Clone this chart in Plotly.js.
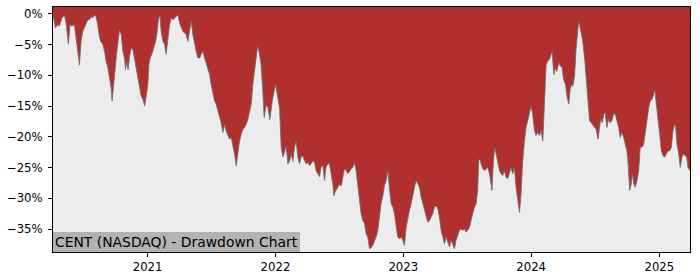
<!DOCTYPE html>
<html>
<head>
<meta charset="utf-8">
<script src="https://cdn.plot.ly/plotly-3.0.1.min.js"></script>
<style>html,body{margin:0;padding:0;background:#fff;}#chart{width:700px;height:280px;}</style>
</head>
<body>
<div id="chart"></div>
<script>
// Decimal-year positions of the readings (converted to dates below)
const years = [
2020.262,2020.281,2020.299,2020.312,2020.332,2020.351,2020.364,2020.382,2020.395,2020.410,
2020.429,2020.437,2020.455,2020.468,2020.481,2020.494,2020.507,2020.520,2020.533,2020.547,
2020.559,2020.572,2020.586,2020.598,2020.611,2020.625,2020.637,2020.651,2020.664,2020.676,
2020.690,2020.703,2020.715,2020.723,2020.734,2020.750,2020.760,2020.770,2020.781,2020.794,
2020.807,2020.820,2020.828,2020.838,2020.848,2020.859,2020.872,2020.885,2020.898,2020.911,
2020.924,2020.937,2020.950,2020.963,2020.977,2020.989,2021.002,2021.010,2021.020,2021.036,
2021.049,2021.063,2021.075,2021.084,2021.096,2021.106,2021.120,2021.133,2021.145,2021.159,
2021.172,2021.185,2021.198,2021.211,2021.224,2021.237,2021.250,2021.263,2021.276,2021.289,
2021.302,2021.315,2021.328,2021.341,2021.354,2021.367,2021.380,2021.393,2021.407,2021.419,
2021.432,2021.446,2021.458,2021.471,2021.485,2021.497,2021.511,2021.524,2021.536,2021.550,
2021.563,2021.575,2021.589,2021.602,2021.615,2021.628,2021.641,2021.654,2021.667,2021.680,
2021.693,2021.706,2021.719,2021.732,2021.745,2021.758,2021.771,2021.784,2021.797,2021.812,
2021.823,2021.837,2021.849,2021.860,2021.870,2021.886,2021.899,2021.912,2021.925,2021.941,
2021.956,2021.977,2022.001,2022.021,2022.032,2022.045,2022.058,2022.071,2022.084,2022.097,
2022.110,2022.123,2022.136,2022.149,2022.162,2022.175,2022.188,2022.201,2022.214,2022.228,
2022.240,2022.253,2022.267,2022.279,2022.292,2022.306,2022.318,2022.332,2022.345,2022.357,
2022.371,2022.384,2022.396,2022.410,2022.423,2022.435,2022.449,2022.457,2022.470,2022.488,
2022.501,2022.514,2022.527,2022.540,2022.553,2022.566,2022.579,2022.592,2022.605,2022.618,
2022.631,2022.644,2022.658,2022.670,2022.683,2022.697,2022.709,2022.722,2022.736,2022.751,
2022.764,2022.787,2022.801,2022.814,2022.826,2022.840,2022.853,2022.866,2022.879,2022.892,
2022.905,2022.918,2022.931,2022.944,2022.957,2022.970,2022.983,2022.996,2023.009,2023.022,
2023.035,2023.048,2023.061,2023.074,2023.088,2023.100,2023.113,2023.127,2023.139,2023.152,
2023.166,2023.178,2023.192,2023.205,2023.217,2023.231,2023.244,2023.256,2023.270,2023.283,
2023.296,2023.309,2023.322,2023.335,2023.348,2023.361,2023.374,2023.387,2023.400,2023.413,
2023.426,2023.439,2023.452,2023.465,2023.479,2023.491,2023.504,2023.518,2023.530,2023.543,
2023.557,2023.569,2023.582,2023.590,2023.600,2023.608,2023.622,2023.635,2023.647,2023.661,
2023.674,2023.686,2023.694,2023.705,2023.715,2023.726,2023.739,2023.752,2023.765,2023.778,
2023.791,2023.804,2023.817,2023.830,2023.843,2023.856,2023.869,2023.882,2023.895,2023.909,
2023.921,2023.934,2023.948,2023.960,2023.973,2023.987,2023.999,2024.012,2024.026,2024.038,
2024.052,2024.065,2024.077,2024.091,2024.104,2024.117,2024.130,2024.143,2024.156,2024.163,
2024.177,2024.190,2024.200,2024.216,2024.229,2024.242,2024.253,2024.268,2024.281,2024.294,
2024.304,2024.315,2024.325,2024.339,2024.351,2024.364,2024.370,2024.378,2024.390,2024.403,
2024.417,2024.429,2024.443,2024.456,2024.468,2024.482,2024.495,2024.507,2024.521,2024.529,
2024.542,2024.554,2024.568,2024.578,2024.591,2024.604,2024.617,2024.630,2024.643,2024.656,
2024.669,2024.683,2024.695,2024.708,2024.722,2024.734,2024.747,2024.755,2024.769,2024.781,
2024.789,2024.802,2024.812,2024.826,2024.839,2024.851,2024.865,2024.878,2024.891,2024.904,
2024.917,2024.930,2024.943,2024.953,2024.964,2024.977,2024.990,2025.003,2025.016,2025.029,
2025.042,2025.055,2025.068,2025.081,2025.094,2025.107,2025.120,2025.128,2025.138,2025.152,
2025.164,2025.177,2025.188,2025.203,2025.214,2025.224,2025.240
];
// Drawdown in percent
const drawdown = [
-0.2,-2.3,-1.8,-2.0,-0.7,-0.2,-1.5,-4.9,-1.8,-2.0,
-1.8,-3.4,-6.1,-8.3,-4.5,-2.9,-2.3,-1.8,-1.0,-1.0,
-0.5,-0.7,-0.2,-0.5,-1.8,-3.9,-4.6,-5.0,-6.1,-7.7,
-8.8,-10.4,-12.0,-14.2,-11.5,-8.3,-6.1,-4.5,-2.6,-3.4,
-6.1,-7.2,-9.1,-7.7,-9.1,-6.9,-5.6,-5.8,-7.2,-8.8,
-10.4,-12.0,-13.4,-13.9,-15.0,-13.4,-11.5,-8.3,-7.2,-6.4,
-5.6,-4.5,-2.9,-1.0,-0.2,-2.9,-4.5,-5.0,-6.6,-4.2,
-1.8,-0.7,-1.0,-0.7,-0.4,-0.2,-1.5,-2.3,-2.9,-3.1,
-3.4,-4.5,-3.1,-1.2,-3.4,-5.0,-6.1,-7.2,-7.2,-6.6,
-6.1,-7.2,-8.0,-8.8,-9.9,-11.5,-13.1,-14.2,-14.7,-15.8,
-16.9,-17.7,-19.3,-18.0,-19.1,-19.9,-20.4,-20.1,-21.2,-22.8,
-24.7,-22.3,-20.7,-19.6,-18.8,-18.5,-18.0,-17.2,-15.8,-14.5,
-11.5,-9.0,-6.5,-5.3,-6.0,-8.0,-11.8,-16.9,-14.9,-15.2,
-17.2,-13.9,-11.5,-13.9,-15.3,-21.7,-23.3,-22.5,-21.5,-24.4,
-24.0,-22.8,-24.0,-21.7,-20.7,-23.3,-24.4,-23.3,-23.1,-23.9,
-24.4,-24.2,-24.7,-24.4,-23.9,-24.2,-25.5,-26.0,-26.5,-24.9,
-24.7,-27.1,-24.9,-24.4,-24.4,-26.0,-27.7,-29.6,-28.8,-28.2,
-27.7,-28.0,-26.6,-25.2,-25.5,-26.0,-25.7,-25.2,-25.0,-24.2,
-25.5,-27.7,-29.8,-32.5,-33.6,-34.1,-35.8,-36.3,-38.2,-38.0,
-37.5,-36.3,-35.2,-32.5,-30.9,-29.6,-27.9,-27.1,-25.5,-28.5,
-30.9,-31.4,-32.5,-34.5,-36.3,-36.6,-36.3,-36.8,-37.7,-34.8,
-33.1,-32.0,-30.9,-29.8,-28.2,-27.1,-27.7,-28.2,-29.8,-30.9,
-32.0,-33.1,-33.9,-33.6,-33.1,-32.5,-31.4,-31.2,-31.7,-33.1,
-35.2,-36.3,-37.4,-36.3,-37.1,-37.9,-36.8,-37.4,-38.2,-36.8,
-35.8,-35.2,-35.0,-35.2,-35.0,-35.5,-35.2,-34.7,-33.6,-32.5,
-31.4,-31.0,-28.7,-23.9,-23.6,-24.4,-25.2,-25.5,-25.2,-25.0,
-26.0,-27.7,-28.7,-23.9,-21.7,-22.8,-24.4,-25.5,-26.0,-26.3,
-25.5,-26.6,-26.8,-26.0,-25.0,-26.0,-25.0,-28.2,-30.4,-32.3,
-29.3,-24.0,-20.7,-18.5,-17.4,-15.8,-15.0,-16.3,-19.0,-19.8,
-19.3,-19.8,-19.0,-20.7,-13.6,-8.3,-7.7,-7.4,-6.6,-6.1,
-9.9,-8.8,-9.4,-8.0,-8.5,-8.8,-10.7,-11.5,-13.6,-14.7,
-12.3,-11.5,-11.8,-10.1,-5.6,-2.3,-1.4,-1.8,-2.9,-4.5,
-7.2,-10.4,-13.6,-17.4,-17.7,-18.2,-18.5,-18.8,-20.4,-19.3,
-17.2,-17.7,-16.3,-16.1,-18.5,-17.2,-17.7,-17.4,-16.3,-16.3,
-17.2,-18.5,-20.1,-19.3,-20.1,-21.2,-22.3,-23.9,-28.7,-27.7,
-26.0,-27.7,-28.2,-27.1,-25.5,-21.7,-21.7,-21.2,-19.0,-16.9,
-15.3,-14.2,-13.9,-13.4,-12.3,-14.7,-16.9,-19.6,-22.3,-23.1,
-23.3,-22.8,-22.3,-22.3,-21.7,-19.0,-18.0,-18.5,-21.2,-22.8,
-25.0,-23.3,-22.8,-23.1,-23.3,-25.0,-25.5
];
const yTickVals = [0, -5, -10, -15, -20, -25, -30, -35];
const yTickText = ['0%', '\u22125%', '\u221210%', '\u221215%', '\u221220%', '\u221225%', '\u221230%', '\u221235%'];
const xTickVals = ['2021-01-01', '2022-01-01', '2023-01-01', '2024-01-01', '2025-01-01'];
const xTickText = ['2021', '2022', '2023', '2024', '2025'];
const chartLabel = 'CENT (NASDAQ) - Drawdown Chart';

function decToDate(t) {
  const y = Math.floor(t);
  const s = Date.UTC(y, 0, 1), e = Date.UTC(y + 1, 0, 1);
  return new Date(s + (t - y) * (e - s)).toISOString().slice(0, 19).replace('T', ' ');
}
const dates = years.map(decToDate);
const yRange = [-38.73, 1.09];

const topEdge = {
  x: dates, y: dates.map(() => yRange[1] + 5),
  type: 'scatter', mode: 'lines', line: {width: 0, color: 'rgba(0,0,0,0)'},
  hoverinfo: 'skip', showlegend: false
};
const ddTrace = {
  x: dates, y: drawdown, type: 'scatter', mode: 'lines',
  fill: 'tonexty', fillcolor: '#b03030',
  line: {color: 'rgba(110,110,110,0.85)', width: 1},
  showlegend: false
};
const tickFont = {family: 'DejaVu Sans', size: 11.7, color: '#000'};
const layout = {
  width: 700, height: 280,
  margin: {l: 53, r: 10, t: 7, b: 28, pad: 0},
  paper_bgcolor: '#ffffff', plot_bgcolor: '#ececec',
  showlegend: false,
  xaxis: {
    type: 'date', range: [dates[0], dates[dates.length - 1]],
    tickmode: 'array', tickvals: xTickVals, ticktext: xTickText,
    ticks: 'outside', ticklen: 4, tickwidth: 1, tickcolor: '#000',
    showline: true, mirror: true, linecolor: '#000', linewidth: 1,
    showgrid: false, zeroline: false, tickfont: tickFont
  },
  yaxis: {
    range: yRange,
    tickmode: 'array', tickvals: yTickVals, ticktext: yTickText,
    ticks: 'outside', ticklen: 4, tickwidth: 1, tickcolor: '#000',
    showline: true, mirror: true, linecolor: '#000', linewidth: 1,
    showgrid: false, zeroline: false, tickfont: tickFont,
    ticklabelstandoff: 3
  },
  annotations: [{
    text: chartLabel, xref: 'paper', yref: 'paper', x: 0, y: 0,
    xanchor: 'left', yanchor: 'bottom', showarrow: false,
    bgcolor: '#b3b3b3', borderpad: 2, borderwidth: 0,
    font: {family: 'DejaVu Sans', size: 13.9, color: '#000'}
  }]
};
Plotly.newPlot('chart', [topEdge, ddTrace], layout, {displayModeBar: false, staticPlot: true});
</script>
</body>
</html>
